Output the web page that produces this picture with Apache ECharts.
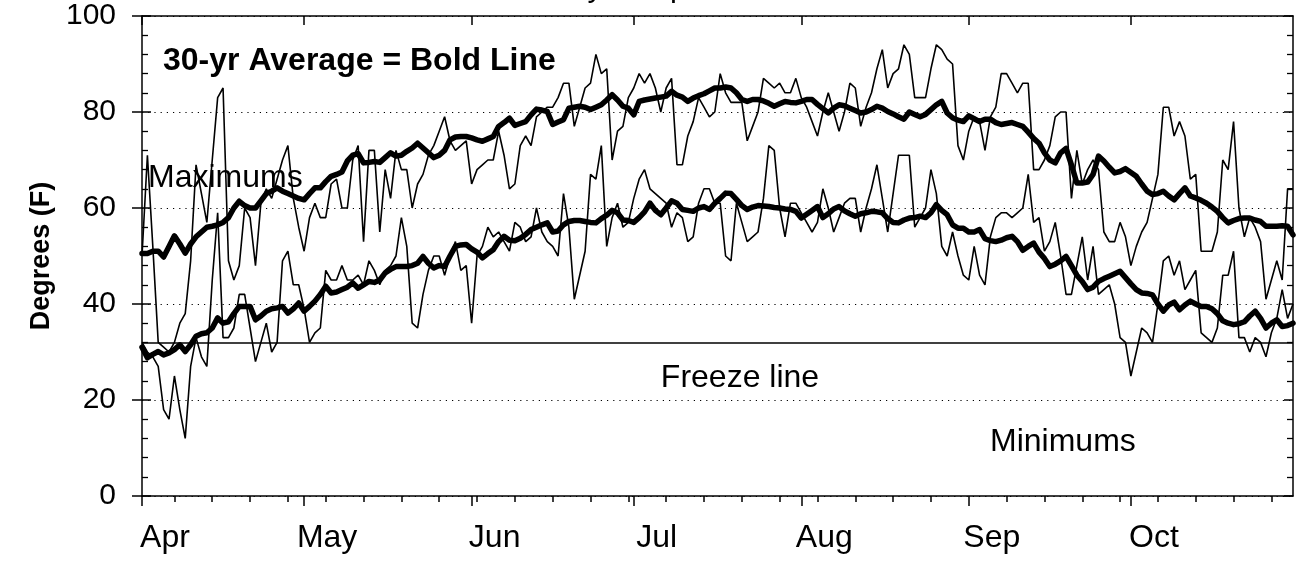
<!DOCTYPE html>
<html><head><meta charset="utf-8">
<script src="https://cdn.jsdelivr.net/npm/echarts@6/dist/echarts.min.js"></script>
<style>html,body{margin:0;padding:0;background:#fff}#c{width:1301px;height:561px}</style>
</head><body><div id="c"></div>
<script>
// Day index 0 = Apr 1 ... 213 = Oct 31
const monthTicks = [0, 30, 61, 91, 122, 153, 183];
const monthLabels = ['Apr', 'May', 'Jun', 'Jul', 'Aug', 'Sep', 'Oct'];
const weekTicks = [6,13,20,27,34,41,48,55,62,69,76,83,90,97,104,111,118,125,132,139,146,153,160,167,174,181,188,195,202,209];
const yTicks = [0, 20, 40, 60, 80, 100];
const freezeLevel = 32;

// Daily maximum (thin)
const hi = [
50,71,52,32,31,30,32,36,38,49,
69,63,57,70,83,85,49,45,48,60,
58,48,61,64,62,66,70,73,62,56,
51,58,61,58,58,65,66,60,60,70,
73,53,72,72,55,68,62,72,68,68,
60,65,67,71,73,76,79,74,72,73,
74,65,68,69,70,70,76,71,64,65,
73,75,73,79,80,81,81,83,86,86,
77,81,85,86,92,88,89,70,76,77,
83,85,88,86,88,85,80,85,87,69,
69,75,78,83,81,79,80,88,84,82,
82,82,74,77,80,87,86,85,86,84,
84,87,83,81,78,75,80,84,80,76,
80,86,85,77,81,84,89,93,85,88,
89,94,92,83,83,83,89,94,93,91,
90,73,70,76,79,78,72,79,81,88,
88,86,84,86,86,68,68,70,73,79,
80,80,62,72,65,68,70,68,55,53,
53,57,54,48,52,55,57,62,67,81,
81,75,78,75,66,67,51,51,51,55,
70,68,78,60,54,58,56,53,41,45,
49,45,64,64];

// Daily minimum (thin)
const lo = [
32,30,29,27,18,16,25,18,12,27,
33,29,27,45,59,33,33,35,42,42,
35,28,32,36,30,32,49,51,44,44,
39,32,34,35,47,45,45,48,45,45,
46,44,49,47,44,47,48,50,58,52,
36,35,42,47,50,50,46,50,53,47,
48,36,50,52,56,54,55,53,51,57,
56,53,54,60,55,53,52,50,63,56,
41,46,51,67,66,73,52,58,61,56,
57,62,66,68,64,63,62,61,56,59,
58,53,54,61,64,64,61,61,50,49,
61,57,53,54,55,62,73,72,60,54,
61,61,59,57,55,57,64,60,55,58,
61,62,62,55,60,64,69,62,55,63,
71,71,71,56,58,60,68,63,52,50,
55,50,46,45,52,46,44,54,58,59,
59,58,59,60,67,57,58,51,53,57,
50,42,42,48,54,45,52,42,43,44,
40,33,32,25,30,35,34,32,40,49,
50,46,49,43,45,47,34,33,32,35,
46,46,51,33,33,30,33,32,29,34,
37,43,37,40];

// 30-yr average maximum (bold)
const avgHi = [
50.5,50.5,51,51,49.8,52,54.2,52.5,50.6,52.5,
54,55,56,56.2,56.5,57,58,60,61.4,60.5,
60,60,61.5,63,63.5,64.2,63.5,63,62.5,62,
61.7,63,64.2,64.2,65.5,66.6,67,67.5,69.8,71,
71.3,69.4,69.5,69.7,69.5,70.5,71.5,70.8,71,71.8,
72.5,73.5,72.5,71.5,70.5,71,72,74.2,74.8,74.9,
74.9,74.6,74.2,73.9,74.4,74.9,77,77.8,78.7,77.2,
77.6,78,79.4,80.6,80.4,80.1,77.4,77.9,78.4,80.8,
81,81.2,81,80.5,81,81.5,82.5,83.6,82.5,81.2,
80.8,79.4,82.2,82.5,82.7,82.9,83.1,83.3,84.3,83.5,
83.1,82.2,82.9,83.4,83.8,84.4,85,85,85.2,85,
84,82.6,82.2,82.6,82.6,82.3,81.8,81.2,81.7,82.2,
82,81.9,82.2,82.6,82.6,81.6,80.7,79.8,80.8,81.5,
81.3,80.8,80.3,79.8,80,80.5,81.2,80.8,80.1,79.6,
79,78.5,80,79.5,79,79.5,80.5,81.5,82.2,79.8,
78.8,78.3,78,79.2,78.6,78,78.5,78.5,77.8,77.4,
77.6,77.8,77.4,77,75.8,74.5,73.5,71.5,70,69.4,
71.5,72.4,69,65.2,65.2,65.4,67,70.8,69.8,68.5,
67.3,67.6,68.2,67.4,66.6,65,63.5,62.8,63,63.5,
62.5,61.7,63,64.2,62.5,62.1,61.6,61,60.2,59.3,
58,56.9,57.4,57.8,57.9,57.9,57.5,57.2,56.2,56.2,
56.2,56.3,56.2,54.4];

// 30-yr average minimum (bold)
const avgLo = [
31,28.8,29.5,30.1,29.4,29.8,30.5,31.5,30.1,31.5,
33.3,33.8,34,35,37.1,36,36.3,38,39.5,39.5,
39.5,36.7,37.5,38.5,39,39.2,39.5,38.1,39,40.2,
38.5,39.5,40.6,42,43.7,42.3,42.5,43,43.5,44.4,
43.3,44,44.7,44.5,45,46.5,47.2,47.8,47.8,47.8,
48,48.5,49.9,48.5,47.5,48,47.8,50,52,52.3,
52.4,51.5,50.8,49.6,50.5,51.3,53,54.1,53.3,53.2,
53.7,54.5,55.5,56,56.5,56.9,55,55.2,56.5,57.2,
57.4,57.4,57.2,57,56.9,57.8,58.5,59.5,59,57.5,
57.4,57,58,59.2,61,59.5,58.6,60,61.5,61,
59.7,59.5,59.3,60,60.3,59.7,61,62,63.1,63,
61.8,60.5,59.7,60.2,60.5,60.4,60.3,60.1,60,59.8,
59.7,59.3,57.9,58.7,59.5,60.3,58,58.8,59.8,60.3,
59.4,58.8,58.3,58.8,59,59.3,59.2,59,57.8,57,
56.9,57.5,57.9,58,58.3,58,59,60.7,59.5,58.6,
56.5,55.8,55.8,55,55,55.5,53.6,53.2,53,53.3,
53.8,54.1,53,51.2,52,52.7,50.8,49.5,47.8,48.3,
49,49.9,48,46,44.7,43,43.5,44.7,45.3,45.8,
46.3,46.8,45.5,44.2,43,42.3,42.2,41.9,40,38.5,
39.8,40.4,38.8,39.8,40.6,40,39.5,39.5,39,38,
36.5,36,35.7,35.9,36.3,37.5,38.5,37,35,36,
36.7,35.3,35.5,36];

const FONT = 'Liberation Sans, Arial, Helvetica, sans-serif';
const pairs = arr => arr.map((v, i) => [i, v]);
const chart = echarts.init(document.getElementById('c'), null, {renderer: 'canvas'});
const black = '#000';
const yBase = {type: 'value', min: 0, max: 100, interval: 20};
const xBase = {type: 'value', min: 0, max: hi.length - 1};

chart.setOption({
  animation: false,
  backgroundColor: '#fff',
  grid: {left: 142, right: 8, top: 16, bottom: 65},
  xAxis: [
    Object.assign({}, xBase, {
      position: 'bottom',
      axisLine: {show: true, onZero: false, lineStyle: {color: black, width: 1.5}},
      axisTick: {show: true, inside: false, length: 10, customValues: monthTicks, lineStyle: {color: black, width: 1.5}},
      axisLabel: {show: true, customValues: monthTicks, align: 'center', padding: [0, 0, 0, 46], margin: 26,
        color: black, fontSize: 32, fontFamily: FONT,
        formatter: v => monthLabels[monthTicks.indexOf(v)] || ''},
      splitLine: {show: false}
    }),
    Object.assign({}, xBase, {
      position: 'bottom',
      axisLine: {show: false, onZero: false},
      axisTick: {show: true, inside: false, length: 6, customValues: weekTicks, lineStyle: {color: black, width: 1.5}},
      axisLabel: {show: false},
      splitLine: {show: false}
    }),
    Object.assign({}, xBase, {
      position: 'top',
      axisLine: {show: true, onZero: false, lineStyle: {color: black, width: 1.5}},
      axisTick: {show: true, inside: true, length: 9, customValues: monthTicks, lineStyle: {color: black, width: 1.5}},
      axisLabel: {show: false},
      splitLine: {show: false}
    })
  ],
  yAxis: [
    Object.assign({}, yBase, {
      position: 'left',
      name: 'Degrees (F)', nameLocation: 'middle', nameRotate: 90, nameGap: 82,
      nameTextStyle: {color: black, fontSize: 27, fontWeight: 'bold', fontFamily: FONT},
      axisLine: {show: true, onZero: false, lineStyle: {color: black, width: 1.5}},
      axisTick: {show: true, inside: false, length: 10, lineStyle: {color: black, width: 1.5}},
      axisLabel: {show: true, margin: 26, color: black, fontSize: 30, fontFamily: FONT,
        formatter: v => (yTicks.indexOf(v) >= 0 ? String(v) : '')},
      splitLine: {show: true, lineStyle: {color: black, width: 1.2, type: [1.2, 5]}}
    }),
    Object.assign({}, yBase, {
      position: 'left',
      axisLine: {show: false, onZero: false},
      axisTick: {show: true, inside: true, length: 9, lineStyle: {color: black, width: 1.5}},
      minorTick: {show: true, splitNumber: 5, length: 6, lineStyle: {color: black, width: 1.3}},
      axisLabel: {show: false},
      splitLine: {show: false}
    }),
    Object.assign({}, yBase, {
      position: 'right',
      axisLine: {show: true, onZero: false, lineStyle: {color: black, width: 1.5}},
      axisTick: {show: true, inside: true, length: 9, lineStyle: {color: black, width: 1.5}},
      minorTick: {show: true, splitNumber: 5, length: 6, lineStyle: {color: black, width: 1.3}},
      axisLabel: {show: false},
      splitLine: {show: false}
    })
  ],
  series: [
    {name: 'Daily max', type: 'line', data: pairs(hi), symbol: 'none', xAxisIndex: 0, yAxisIndex: 0,
      lineStyle: {color: black, width: 1.6}, z: 2},
    {name: 'Daily min', type: 'line', data: pairs(lo), symbol: 'none', xAxisIndex: 0, yAxisIndex: 0,
      lineStyle: {color: black, width: 1.6}, z: 2,
      markLine: {silent: true, symbol: ['none', 'none'], label: {show: false},
        lineStyle: {color: black, width: 1.6, type: 'solid'}, data: [{yAxis: freezeLevel}]}},
    {name: '30-yr avg max', type: 'line', data: pairs(avgHi), symbol: 'none', xAxisIndex: 0, yAxisIndex: 0,
      lineStyle: {color: black, width: 5.5, join: 'round', cap: 'round'}, z: 3},
    {name: '30-yr avg min', type: 'line', data: pairs(avgLo), symbol: 'none', xAxisIndex: 0, yAxisIndex: 0,
      lineStyle: {color: black, width: 5.5, join: 'round', cap: 'round'}, z: 3}
  ],
  graphic: [
    {type: 'text', x: 534, y: -13, z: 10, style: {text: 'Daily Temperatures', fill: black, fontSize: 31, fontFamily: FONT, align: 'left', verticalAlign: 'middle'}},
    {type: 'text', x: 163, y: 61, z: 10, style: {text: '30-yr Average = Bold Line', fill: black, fontSize: 32, fontWeight: 'bold', fontFamily: FONT, align: 'left', verticalAlign: 'middle'}},
    {type: 'text', x: 148, y: 178, z: 10, style: {text: 'Maximums', fill: black, fontSize: 32, fontFamily: FONT, align: 'left', verticalAlign: 'middle'}},
    {type: 'text', x: 740, y: 378, z: 10, style: {text: 'Freeze line', fill: black, fontSize: 32, fontFamily: FONT, align: 'center', verticalAlign: 'middle'}},
    {type: 'text', x: 990, y: 442, z: 10, style: {text: 'Minimums', fill: black, fontSize: 32, fontFamily: FONT, align: 'left', verticalAlign: 'middle'}}
  ]
});
</script></body></html>
